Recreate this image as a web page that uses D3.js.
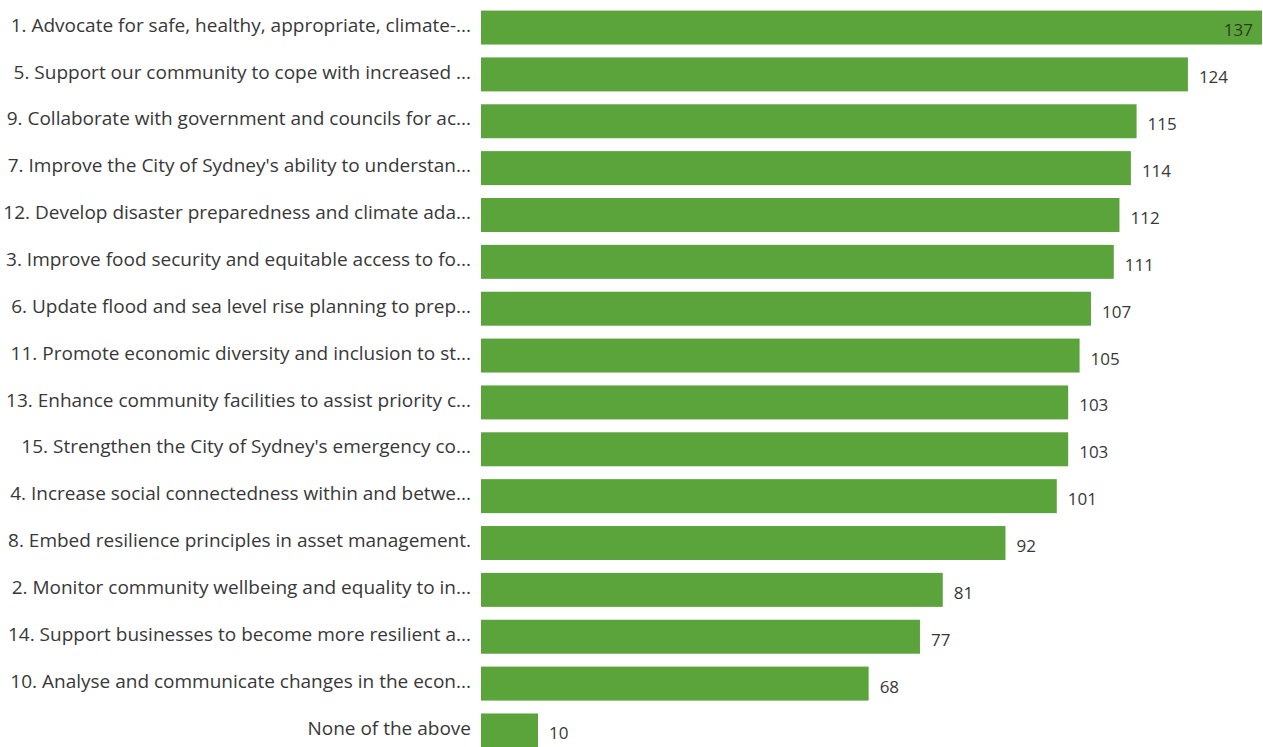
<!DOCTYPE html>
<html>
<head>
<meta charset="utf-8">
<script src="https://cdn.jsdelivr.net/npm/d3@7"></script>
<style>
  html, body { margin: 0; padding: 0; background: #fff; }
  svg { display: block; }
  text { font-family: "Open Sans", "Noto Sans", sans-serif; }
</style>
</head>
<body>
<svg id="chart" width="1263" height="747"></svg>
<script>
/* Beschriftungen der Balken (von oben nach unten) */
var categories = [
    "1. Advocate for safe, healthy, appropriate, climate-...",
    "5. Support our community to cope with increased ...",
    "9. Collaborate with government and councils for ac...",
    "7. Improve the City of Sydney's ability to understan...",
    "12. Develop disaster preparedness and climate ada...",
    "3. Improve food security and equitable access to fo...",
    "6. Update flood and sea level rise planning to prep...",
    "11. Promote economic diversity and inclusion to st...",
    "13. Enhance community facilities to assist priority c...",
    "15. Strengthen the City of Sydney's emergency co...",
    "4. Increase social connectedness within and betwe...",
    "8. Embed resilience principles in asset management.",
    "2. Monitor community wellbeing and equality to in...",
    "14. Support businesses to become more resilient a...",
    "10. Analyse and communicate changes in the econ...",
    "None of the above"
];

/* Anzahl der Antworten */
var values = [137, 124, 115, 114, 112, 111, 107, 105, 103, 103, 101, 92, 81, 77, 68, 10];

var bar_color  = "#5ba33b";
var text_color = "#383838";

var svg = d3.select("#chart");

var x = d3.scaleLinear()
    .domain([0, 137])
    .range([481, 1262]);

var y = d3.scaleBand()
    .domain(categories)
    .range([4, 754])
    .paddingInner(0.275)
    .paddingOuter(0.14);

/* Kategorien-Achse ohne Linie und Striche */
var y_axis = d3.axisLeft(y).tickSize(0).tickPadding(10);

var axis_g = svg.append("g")
    .attr("transform", "translate(" + x(0) + ",0)")
    .call(y_axis);

axis_g.select(".domain").remove();
axis_g.selectAll("text")
    .attr("fill", text_color)
    .attr("dy", "0.22em")
    .style("font-size", "19px")
    .style("font-family", "'Open Sans', 'Noto Sans', sans-serif");

var max_val = d3.max(values);

/* Balken */
svg.selectAll(".bar")
    .data(values)
    .enter()
    .append("rect")
    .attr("class", "bar")
    .attr("x", x(0))
    .attr("y", function(d, i) { return y(categories[i]); })
    .attr("width", function(d) { return x(d) - x(0); })
    .attr("height", y.bandwidth())
    .attr("fill", bar_color);

/* Werte: der größte Balken bekommt die Zahl innen */
svg.selectAll(".val")
    .data(values)
    .enter()
    .append("text")
    .attr("class", "val")
    .attr("x", function(d) {
        return d === max_val ? x(d) - 9 : x(d) + 11;
    })
    .attr("y", function(d, i) { return y(categories[i]) + y.bandwidth() / 2 + 3; })
    .attr("dy", "0.35em")
    .attr("text-anchor", function(d) { return d === max_val ? "end" : "start"; })
    .attr("fill", function(d) { return d === max_val ? "#2a3d22" : text_color; })
    .style("font-size", "17px")
    .text(function(d) { return d; });
</script>
</body>
</html>
